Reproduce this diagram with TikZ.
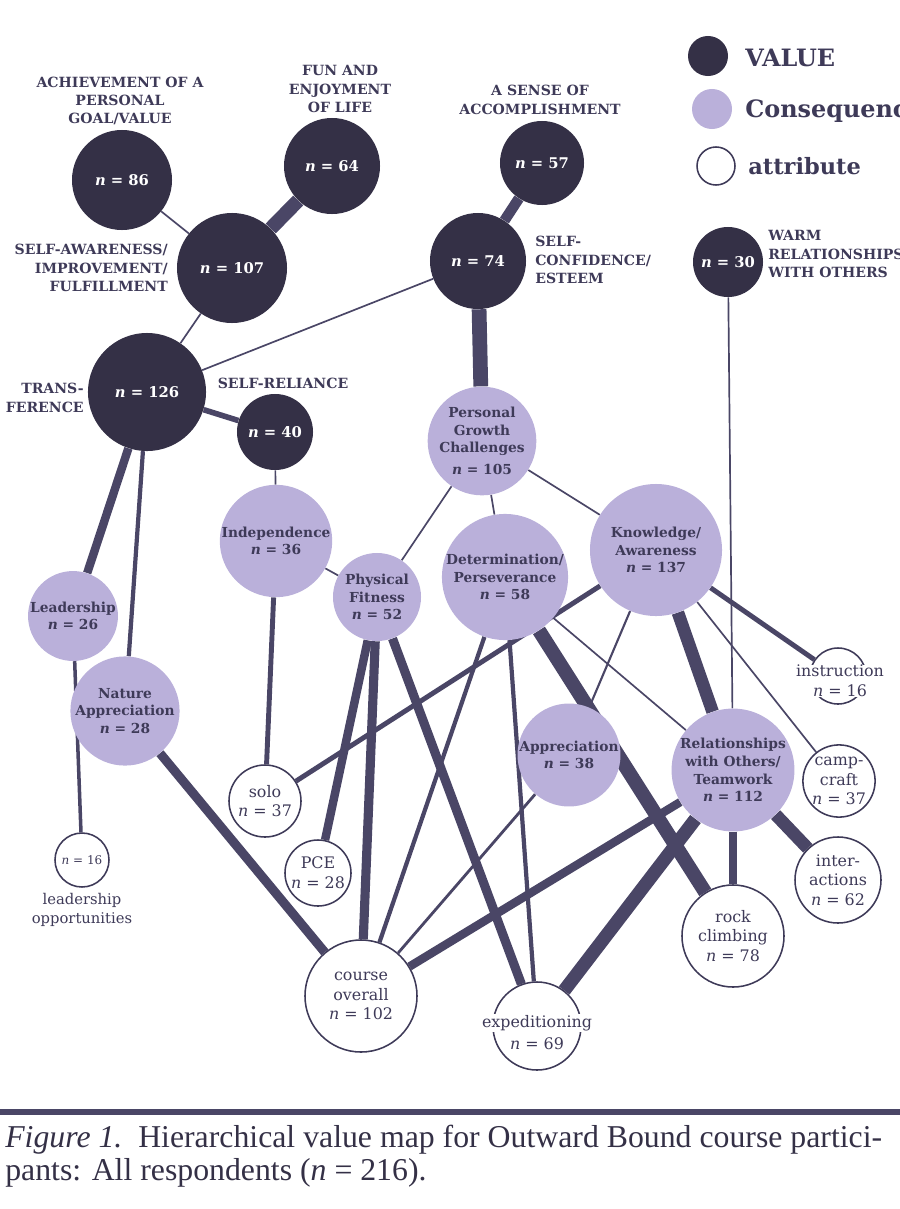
\documentclass[tikz,border=0pt]{standalone}
\usepackage{fontspec}
\setmainfont{DejaVu Serif}
\newfontfamily\capfont{Liberation Serif}
\usepackage{tikz}
\usetikzlibrary{backgrounds}
\definecolor{hvmdark}{RGB}{52,48,70}
\definecolor{hvmlav}{RGB}{186,176,218}
\definecolor{hvmink}{RGB}{62,58,88}
\definecolor{hvmline}{RGB}{74,70,102}

\begin{document}
\begin{tikzpicture}[x=0.025cm, y=-0.025cm,
val/.style={circle, fill=hvmdark, text=white, inner sep=0pt,
font=\fontsize{10.5}{12}\selectfont\bfseries},
cons/.style={circle, fill=hvmlav, text=hvmink, inner sep=0pt, align=center,
font=\fontsize{9.8}{12.5}\selectfont\bfseries},
attr/.style={circle, draw=hvmink, line width=1.1pt, fill=white, text=hvmink,
inner sep=0pt, align=center, font=\fontsize{11.3}{14}\selectfont},
atxt/.style={text=hvmink, inner sep=1pt, align=center, font=\fontsize{11.3}{14}\selectfont},
vlbl/.style={text=hvmink, inner sep=0pt, font=\fontsize{10}{13}\selectfont\bfseries},
legtxt/.style={anchor=west, text=hvmink, inner sep=0pt, font=\fontsize{17}{20}\selectfont\bfseries},
lnk/.style={draw=hvmline, line width=#1},
lnk/.default=1.2pt
]
\useasboundingbox (0,0) rectangle (900,1209);

% legend
\node[val, minimum size=1cm] (legval) at (708,56) {};
\node[cons, minimum size=1cm] (legcons) at (712,109) {};
\node[attr, minimum size=0.95cm] (legattr) at (716,166) {};
\node[legtxt] (legvaltxt) at (745,58) {VALUE};
\node[legtxt] (legconstxt) at (745,111) {Consequence};
\node[legtxt, font=\fontsize{16}{20}\selectfont\bfseries] (legattrtxt) at (748,166) {attribute};

% values
\node[val, minimum size=2.5cm] (ach) at (122,180) {\textit{n} = 86};
\node[val, minimum size=2.4cm] (fun) at (332,166) {\textit{n} = 64};
\node[val, minimum size=2.75cm] (selfaw) at (232,268) {\textit{n} = 107};
\node[val, minimum size=2.1cm] (acc) at (542,163) {\textit{n} = 57};
\node[val, minimum size=2.4cm] (selfconf) at (478,261) {\textit{n} = 74};
\node[val, minimum size=1.75cm] (warm) at (728,262) {\textit{n} = 30};
\node[val, minimum size=2.95cm] (transf) at (147,392) {\textit{n} = 126};
\node[val, minimum size=1.9cm] (selfrel) at (275,432) {\textit{n} = 40};

\node[vlbl, align=center] (achlbl) at (120,101) {ACHIEVEMENT OF A\\PERSONAL\\GOAL/VALUE};
\node[vlbl, align=center] (funlbl) at (340,89) {FUN AND\\ENJOYMENT\\OF LIFE};
\node[vlbl, align=center] (acclbl) at (540,100) {A SENSE OF\\ACCOMPLISHMENT};
\node[vlbl, align=right, anchor=east] (selfawlbl) at (168,268) {SELF-AWARENESS/\\IMPROVEMENT/\\FULFILLMENT};
\node[vlbl, align=left, anchor=west] (selfconflbl) at (535,260) {SELF-\\CONFIDENCE/\\ESTEEM};
\node[vlbl, align=left, anchor=west] (warmlbl) at (768,254) {WARM\\RELATIONSHIPS\\WITH OTHERS};
\node[vlbl, align=right, anchor=east] (transflbl) at (84,398) {TRANS-\\FERENCE};
\node[vlbl] (selfrellbl) at (283,383) {SELF-RELIANCE};

% consequences
\node[cons, minimum size=2.65cm] (pgc) at (482,441) {Personal\\Growth\\Challenges\\[3pt]\textit{n} = 105};
\node[cons, minimum size=3.3cm] (knowl) at (656,550) {Knowledge/\\Awareness\\\textit{n} = 137};
\node[cons, minimum size=1.85cm] (indep) at (276,541) {Independence\\\textit{n} = 36};
\node[cons, minimum size=2.2cm] (phys) at (377,597) {Physical\\Fitness\\\textit{n} = 52};
\node[cons, minimum size=2.1cm] (determ) at (505,577) {Determination/\\Perseverance\\\textit{n} = 58};
\node[cons, minimum size=1.65cm] (leader) at (73,616) {Leadership\\\textit{n} = 26};
\node[cons, minimum size=1.65cm] (nature) at (125,711) {Nature\\Appreciation\\\textit{n} = 28};
\node[cons, minimum size=1.85cm] (apprec) at (569,755) {Appreciation\\\textit{n} = 38};
\node[cons, minimum size=2.75cm] (relat) at (733,770) {Relationships\\with Others/\\Teamwork\\\textit{n} = 112};

% attributes
\node[attr, minimum size=1.35cm] (lopp) at (82,860) {\fontsize{8.5}{10}\selectfont\textit{n} = 16};
\node[atxt, font=\fontsize{10.5}{14}\selectfont] (lopplbl) at (82,910) {leadership\\opportunities};
\node[attr, minimum size=1.8cm] (solo) at (265,801) {solo\\\textit{n} = 37};
\node[attr, minimum size=1.65cm] (pce) at (318,873) {PCE\\\textit{n} = 28};
\node[attr, minimum size=2.8cm] (course) at (361,996) {course\\overall\\\textit{n} = 102};
\node[attr, minimum size=2.2cm] (exped) at (537,1026) {};
\node[atxt, fill=white] (expedtxt) at (537,1023) {expeditioning};
\node[atxt] (expedn) at (537,1044) {\textit{n} = 69};
\node[attr, minimum size=2.55cm] (rock) at (733,936) {rock\\climbing\\\textit{n} = 78};
\node[attr, minimum size=2.15cm] (inter) at (838,880) {inter-\\actions\\\textit{n} = 62};
\node[attr, minimum size=1.7cm] (camp) at (839,781) {camp-\\craft\\\textit{n} = 37};
\node[attr, minimum size=1.4cm] (instr) at (838,676) {};
\node[atxt, fill=white, inner sep=0pt] (instrtxt) at (840,681) {instruction\\\textit{n} = 16};

% links
\begin{scope}[on background layer]
\draw[lnk] (ach) -- (selfaw);
\draw[lnk=10pt] (fun) -- (selfaw);
\draw[lnk=7.5pt] (acc) -- (selfconf);
\draw[lnk] (selfaw) -- (transf);
\draw[lnk] (selfconf) -- (transf);
\draw[lnk=10.5pt] (selfconf) -- (pgc);
\draw[lnk=4pt] (transf) -- (selfrel);
\draw[lnk=6pt] (transf) -- (leader);
\draw[lnk=3pt] (transf) -- (nature);
\draw[lnk] (selfrel) -- (indep);
\draw[lnk] (warm) -- (relat);
\draw[lnk] (pgc) -- (phys);
\draw[lnk] (pgc) -- (determ);
\draw[lnk] (pgc) -- (knowl);
\draw[lnk] (indep) -- (phys);
\draw[lnk=3.5pt] (indep) -- (solo);
\draw[lnk=2.5pt] (leader) -- (lopp);
\draw[lnk=6.5pt] (nature) -- (course);
\draw[lnk=6pt] (phys) -- (pce);
\draw[lnk=6.5pt] (phys) -- (course);
\draw[lnk=6.5pt] (phys) -- (exped);
\draw[lnk=3pt] (determ) -- (course);
\draw[lnk=3pt] (determ) -- (exped);
\draw[lnk=10pt] (determ) -- (rock);
\draw[lnk] (determ) -- (relat);
\draw[lnk=3.5pt] (knowl) -- (solo);
\draw[lnk=1.5pt] (knowl) -- (apprec);
\draw[lnk=9pt] (knowl) -- (relat);
\draw[lnk=3.5pt] (knowl) -- (instr);
\draw[lnk] (knowl) -- (camp);
\draw[lnk=2pt] (apprec) -- (course);
\draw[lnk=6pt] (relat) -- (course);
\draw[lnk=9.5pt] (relat) -- (exped);
\draw[lnk=5pt] (relat) -- (rock);
\draw[lnk=9pt] (relat) -- (inter);
\end{scope}

% caption
\draw[hvmline, line width=4pt] (0,1112) -- (900,1112);
\node[anchor=north west, align=left, inner sep=0pt, text=hvmdark,
font=\capfont\fontsize{22.6}{23}\selectfont] (caption) at (5,1125)
{\textit{Figure 1.}\ \ Hierarchical value map for Outward Bound course partici-\\
pants: All respondents (\textit{n} = 216).};

\end{tikzpicture}
\end{document}
